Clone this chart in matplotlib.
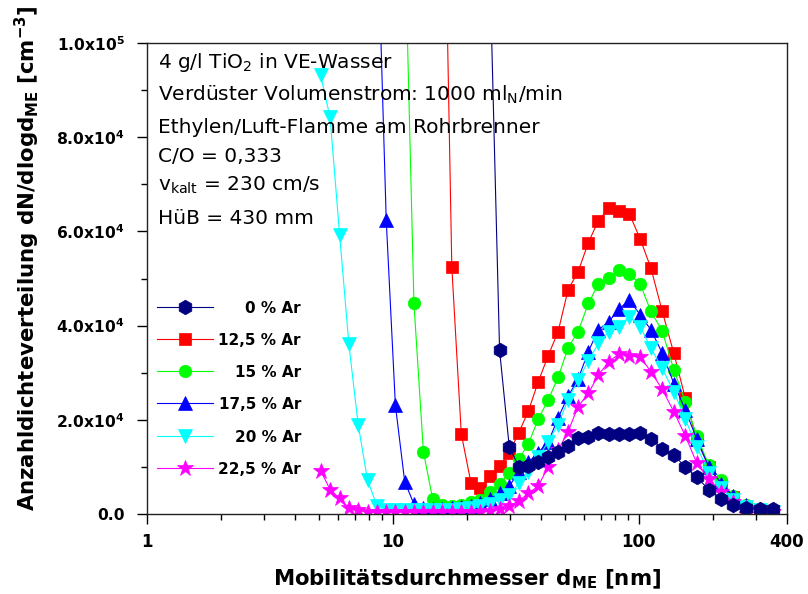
import numpy as np
import matplotlib
matplotlib.use("Agg")
import matplotlib.pyplot as plt
from matplotlib.ticker import FixedLocator, FixedFormatter, NullFormatter

plt.rcParams['font.family'] = ['DejaVu Sans']
plt.rcParams['mathtext.fontset'] = 'dejavusans'

N = None
# mobility diameter channels [nm]
diam = [5.08, 5.55, 6.07, 6.62, 7.22, 7.88, 8.60, 9.39, 10.23, 11.16, 12.17, 13.30,
        14.50, 15.88, 17.35, 18.96, 20.76, 22.65, 24.80, 27.13, 29.70, 32.51, 35.55,
        38.93, 42.74, 46.93, 51.52, 56.56, 62.28, 68.39, 75.37, 82.98, 91.33, 101.2,
        111.9, 124.3, 138.7, 154.4, 171.9, 192.3, 216.6, 241.7, 272.5, 309.7, 351.3]

ar_0 = [N]*18 + [115000, 34800, 14300, 10000, 10200, 11100, 12000, 13200, 14500, 16100,
                 16400, 17300, 17000, 17000, 17000, 17100, 15900, 13900, 12500, 10000,
                 7800, 5200, 3200, 1900, 1200, 1000, 1000]
ar_125 = [N]*13 + [160000, 52400, 17000, 6600, 5500, 8000, 10100, 13000, 17300, 21900,
                   28000, 33600, 38700, 47600, 51400, 57600, 62300, 64900, 64400, 63800,
                   58400, 52200, 43100, 34100, 24600, 15700, 10000, 6200, 3700, 1500, 800, 500]
ar_15 = [N]*9 + [125000, 44700, 13200, 3200, 1900, 1700, 1900, 2600, 3000, 4700, 6400,
                 8600, 11700, 14900, 20100, 24200, 29000, 35300, 38700, 44700, 48800,
                 50200, 51700, 51000, 48800, 43000, 38900, 30600, 23800, 16600, 10400,
                 7200, 3800, 2000, 1000, 600]
ar_175 = [N]*6 + [130000, 62400, 23100, 6900, 2100, 1300, 1100, 1100, 1200, 1400, 1700,
                  2300, 3200, 4400, 5900, 9000, 11000, 13000, 15200, 20400, 25000, 28600,
                  34500, 39100, 40800, 43500, 45400, 42300, 39100, 34200, 27700, 22100,
                  15900, 10000, 6400, 3800, 1900, 1000, 600]
ar_20 = [93200, 84200, 59300, 36000, 19000, 7200, 1800, 900, 800, 800, 800, 800, 800, 800,
         900, 1000, 1200, 1600, 2200, 3000, 4000, 6500, 9000, 12000, 15300, 19000, 24300,
         28400, 32500, 36200, 38700, 39800, 41900, 39800, 35200, 30900, 26000, 20100,
         14300, 8800, 5500, 3000, 1500, 800, 500]
ar_225 = [9200, 5200, 3300, 1300, 800, 500, 400, 400, 400, 400, 400, 400, 400, 400, 400,
          400, 400, 400, 600, 1000, 1700, 2800, 4400, 5900, 10000, 13500, 17500, 22800,
          25600, 29500, 32300, 34000, 33500, 33400, 30200, 26500, 21700, 16600, 10800,
          7400, 4700, 2500, 1200, 600, 400]

labels = ["0 % Ar", "12,5 % Ar", "15 % Ar", "17,5 % Ar", "20 % Ar", "22,5 % Ar"]
series = [ar_0, ar_125, ar_15, ar_175, ar_20, ar_225]
colors = ["#000080", "#FF0000", "#00FF00", "#0000FF", "#00FFFF", "#FF00FF"]
markers = ["h", "s", "o", "^", "v", "*"]
msizes = [10.5, 8, 9, 9.5, 9.5, 12]
draw_order = [1, 2, 3, 4, 5, 0]

x_ticks = [1, 10, 100, 400]
x_ticklabels = ["1", "10", "100", "400"]
y_ticks = [0, 20000, 40000, 60000, 80000, 100000]
y_ticklabels = ["0.0", r"2.0x10$^{\mathbf{4}}$", r"4.0x10$^{\mathbf{4}}$",
                r"6.0x10$^{\mathbf{4}}$", r"8.0x10$^{\mathbf{4}}$", r"1.0x10$^{\mathbf{5}}$"]

info_lines = [r"4 g/l TiO$_2$ in VE-Wasser",
              r"Verdüster Volumenstrom: 1000 ml$_\mathrm{N}$/min",
              "Ethylen/Luft-Flamme am Rohrbrenner",
              "C/O = 0,333",
              r"v$_\mathrm{kalt}$ = 230 cm/s",
              "HüB = 430 mm"]

W, H = 808, 594
AX_L, AX_R, AX_T, AX_B = 147, 787, 43, 514
fig = plt.figure(figsize=(W/100, H/100), dpi=100)
ax = fig.add_axes([AX_L/W, 1-AX_B/H, (AX_R-AX_L)/W, (AX_B-AX_T)/H])

x = np.array(diam, dtype=float)
for i in draw_order:
    y = np.array([np.nan if v is None else v for v in series[i]], dtype=float)
    ax.plot(x, y, color=colors[i], lw=0.8, marker=markers[i], ms=msizes[i],
            mec=colors[i], mfc=colors[i], mew=0.5)

ax.set_xscale('log')
ax.set_xlim(1, 400)
ax.set_ylim(0, 100000)

ax.xaxis.set_major_locator(FixedLocator(x_ticks))
ax.xaxis.set_major_formatter(FixedFormatter(x_ticklabels))
minor_x = [m*10**k for k in range(0, 3) for m in range(2, 10) if m*10**k < 400]
ax.xaxis.set_minor_locator(FixedLocator(minor_x))
ax.xaxis.set_minor_formatter(NullFormatter())
ax.yaxis.set_major_locator(FixedLocator(y_ticks))
ax.yaxis.set_major_formatter(FixedFormatter(y_ticklabels))
ax.yaxis.set_minor_locator(FixedLocator([10000, 30000, 50000, 70000, 90000]))

ax.tick_params(which='both', direction='out', top=False, right=False, width=1.0,
               color='black')
ax.tick_params(which='major', length=7)
ax.tick_params(which='minor', length=4)
ax.tick_params(axis='x', pad=7, labelsize=12)
ax.tick_params(axis='y', pad=9, labelsize=11.2)
for lab in ax.get_xticklabels() + ax.get_yticklabels():
    lab.set_fontweight('bold')
for sp in ax.spines.values():
    sp.set_linewidth(1.0)
    sp.set_color('#222222')

ax.set_xlabel(r"Mobilitätsdurchmesser d$_{\mathbf{ME}}$ [nm]", fontsize=15.3,
              fontweight='bold', labelpad=12)
ax.set_ylabel(r"Anzahldichteverteilung dN/dlogd$_{\mathbf{ME}}$ [cm$^{\mathbf{-3}}$]",
              fontsize=15.3, fontweight='bold')
ax.yaxis.set_label_coords((42 - AX_L) / (AX_R - AX_L), (AX_B - 258) / (AX_B - AX_T))

baselines = [68.3, 100.7, 133.3, 162.3, 191, 224]
for txt, b in zip(info_lines, baselines):
    fig.text(158/W, 1-b/H, txt, fontsize=14.5, va='baseline', ha='left')

# manual legend (pixel layout -> axes fraction)
def fx(px):
    return (px - AX_L) / (AX_R - AX_L)

def fy(py):
    return (AX_B - py) / (AX_B - AX_T)

rows = [307.3, 339.3, 370.7, 402.7, 436, 468.3]
for i, py in enumerate(rows):
    ax.plot([fx(156.7), fx(212.7)], [fy(py), fy(py)], color=colors[i], lw=0.8,
            transform=ax.transAxes, clip_on=False)
    ax.plot([fx(185)], [fy(py)], color=colors[i], marker=markers[i], ms=msizes[i],
            mec=colors[i], mfc=colors[i], mew=0.5, transform=ax.transAxes, clip_on=False)
    ax.text(fx(301), fy(py + 1.5), labels[i], transform=ax.transAxes, ha='right',
            va='center', fontsize=11, fontweight='bold')

fig.savefig("out.png", dpi=100)
